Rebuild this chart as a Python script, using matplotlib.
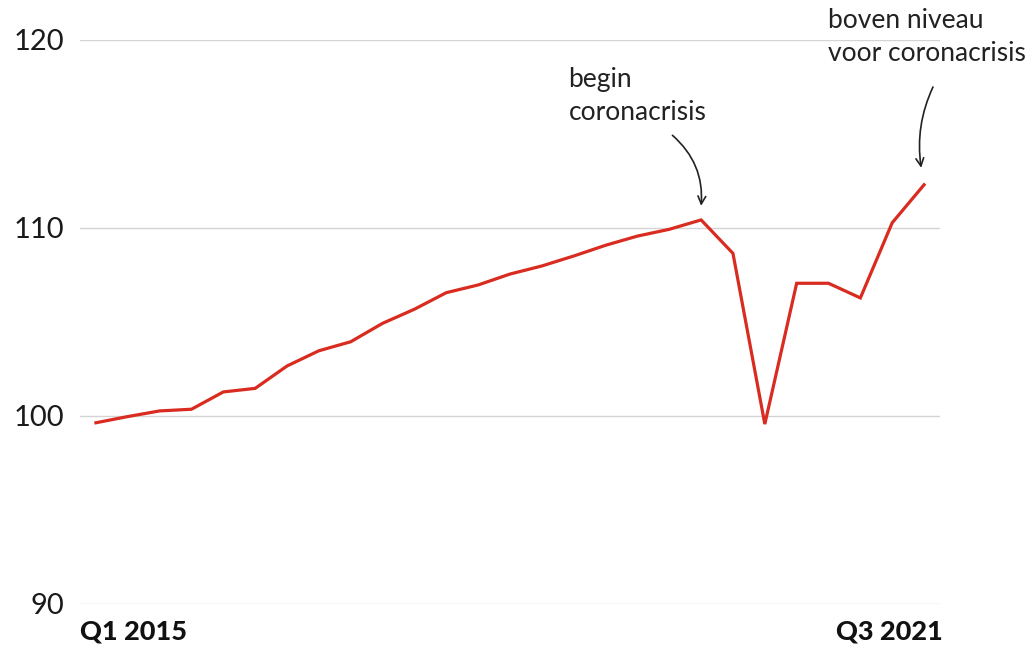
import numpy as np
import matplotlib.pyplot as plt

# quarterly index, Q1 2015 .. Q3 2021
quarters = ["Q1 2015", "Q2 2015", "Q3 2015", "Q4 2015",
            "Q1 2016", "Q2 2016", "Q3 2016", "Q4 2016",
            "Q1 2017", "Q2 2017", "Q3 2017", "Q4 2017",
            "Q1 2018", "Q2 2018", "Q3 2018", "Q4 2018",
            "Q1 2019", "Q2 2019", "Q3 2019", "Q4 2019",
            "Q1 2020", "Q2 2020", "Q3 2020", "Q4 2020",
            "Q1 2021", "Q2 2021", "Q3 2021"]
index = [99.64, 99.97, 100.27, 100.36,
         101.28, 101.47, 102.66, 103.47,
         103.95, 104.93, 105.68, 106.56,
         106.97, 107.55, 107.98, 108.51,
         109.08, 109.57, 109.93, 110.43,
         108.65, 99.57, 107.06, 107.06,
         106.28, 110.28, 112.30]
yticks = [90, 100, 110, 120]

red = "#d92b1f"
plt.rcParams['font.family'] = ['Lato', 'DejaVu Sans']

fig = plt.figure(figsize=(10.35, 6.46), dpi=100)
ax = fig.add_axes([80/1035, 1-604/646, 860/1035, 564/646])

x = np.arange(len(index))
ax.plot(x, index, color=red, lw=2.3, solid_joinstyle='miter', zorder=3)

ax.set_xlim(-0.5, len(index) - 0.5)
ax.set_ylim(90, 120)
ax.set_yticks(yticks)
ax.set_yticklabels([str(t) for t in yticks], fontsize=21, color="#1a1a1a")
ax.tick_params(axis='y', length=0, pad=11)
ax.set_xticks([])
for s in ax.spines.values():
    s.set_visible(False)
ax.grid(axis='y', color="#d4d4d4", lw=1)
ax.set_axisbelow(True)

# first and last quarter labels
ax.text(-0.5, 89.15, quarters[0], fontsize=19.5, fontweight='black',
        ha='left', va='top', color="#111111")
ax.text(len(index) - 0.4, 89.15, quarters[-1], fontsize=19.5, fontweight='black',
        ha='right', va='top', color="#111111")

# annotations
peak = 19
ax.text(14.84, 118.55, "begin\ncoronacrisis", fontsize=19, ha='left', va='top',
        color="#222222", linespacing=1.4)
ax.annotate("", xy=(peak, index[peak] + 0.75), xytext=(peak - 0.9, index[peak] + 4.5),
            arrowprops=dict(arrowstyle="->", color="#222222", lw=1.2,
                            connectionstyle="arc3,rad=-0.25",
                            shrinkA=0, shrinkB=0, mutation_scale=14))

last = len(index) - 1
ax.text(22.99, 121.7, "boven niveau\nvoor coronacrisis", fontsize=19, ha='left', va='top',
        color="#222222", linespacing=1.4, clip_on=False)
ax.annotate("", xy=(last - 0.09, index[last] + 0.9), xytext=(last + 0.28, index[last] + 5.2),
            arrowprops=dict(arrowstyle="->", color="#222222", lw=1.2,
                            connectionstyle="arc3,rad=0.15",
                            shrinkA=0, shrinkB=0, mutation_scale=14),
            annotation_clip=False)

fig.savefig("out.png", dpi=100, facecolor="white")
